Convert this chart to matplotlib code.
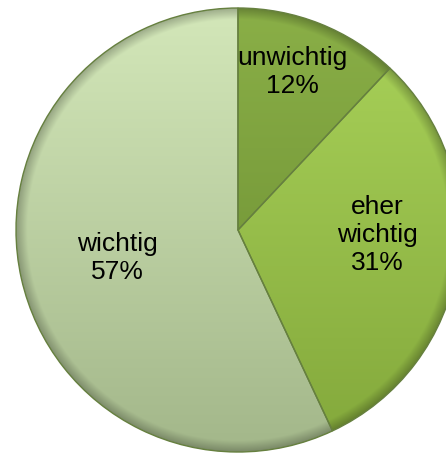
import numpy as np
import matplotlib
matplotlib.use("Agg")
import matplotlib.pyplot as plt
from matplotlib.colors import to_rgb

plt.rcParams['font.family'] = ['Liberation Sans', 'DejaVu Sans']

labels = ["unwichtig", "eher\nwichtig", "wichtig"]
shares = [12, 31, 57]
top_colors = ["#8aaf47", "#aad35a", "#d3e7b9"]
bottom_colors = ["#67892f", "#83a83b", "#a3b78a"]
label_pos = [(292, 72), (377, 235), (117, 258)]

W, H = 446, 455
cx, cy, r = 238, 455 - 230, 222

fig = plt.figure(figsize=(W / 100, H / 100), dpi=100)
ax = fig.add_axes([0, 0, 1, 1])

wedges, _ = ax.pie(shares, startangle=90, counterclock=False, center=(cx, cy),
                   radius=r, wedgeprops=dict(linewidth=1.0, edgecolor="#66803f"))

# shading image (vertical gradient + darker rim)
n = 500
xs = np.linspace(cx - r, cx + r, n)
ys = np.linspace(cy + r, cy - r, n)
X, Y = np.meshgrid(xs, ys)
t = (Y - (cy - r)) / (2 * r)
d = np.hypot(X - cx, Y - cy) / r
rim = np.clip((d - 0.95) / 0.05, 0, 1)[..., None]

for w, tc, bc in zip(wedges, top_colors, bottom_colors):
    tc, bc = np.array(to_rgb(tc)), np.array(to_rgb(bc))
    img = bc + (tc - bc) * t[..., None]
    img = img * (1 - 0.25 * rim)
    w.set_facecolor("none")
    im = ax.imshow(np.clip(img, 0, 1), extent=(cx - r, cx + r, cy - r, cy + r),
                   origin="upper", zorder=0.5, interpolation="bilinear")
    im.set_clip_path(w)

for lab, sh, (px, py) in zip(labels, shares, label_pos):
    ax.text(px, H - py, f"{lab}\n{sh}%", ha="center", va="center",
            fontsize=19, linespacing=1.22, color="black")

ax.set_xlim(0, W)
ax.set_ylim(0, H)
ax.set_aspect("equal")
ax.axis("off")
fig.savefig("out.png", dpi=100)
